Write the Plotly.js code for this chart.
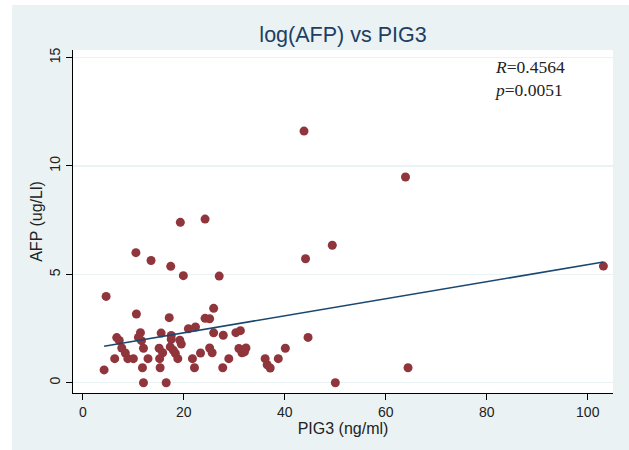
<!DOCTYPE html>
<html>
<head>
<meta charset="utf-8">
<script src="https://cdn.plot.ly/plotly-3.0.1.min.js"></script>
<style>
html,body{margin:0;padding:0;background:#ffffff;width:629px;height:450px;overflow:hidden;}
#chart{position:absolute;left:12px;top:5px;width:617px;height:445px;}
</style>
</head>
<body>
<div id="chart"></div>
<script>
// PIG3 (ng/ml)
const pig3 = [4.2,4.6,6.3,6.7,7.2,7.7,8.4,8.9,10.0,10.5,10.6,11.4,11.0,11.6,12.0,11.8,12.0,12.9,13.5,
  15.5,15.1,15.8,15.2,15.3,16.5,17.1,17.4,17.5,17.5,17.3,17.9,18.3,18.8,19.2,19.5,19.3,19.9,
  20.9,22.3,21.7,22.1,23.3,24.2,24.2,25.1,25.9,25.9,25.1,25.6,27.0,27.8,27.7,28.9,
  30.3,31.2,30.9,32.3,31.5,32.0,36.1,36.5,37.1,38.7,40.1,43.8,44.1,44.6,49.4,50.0,63.9,64.4,103.1];
// AFP (ug/Ll)
const afp = [0.59,3.98,1.11,2.08,1.95,1.60,1.37,1.11,1.11,6.0,3.17,2.31,2.09,1.94,1.59,0.69,0.0,1.11,5.64,
  2.29,1.59,1.38,1.11,0.69,0.0,3.0,5.37,2.18,2.0,1.65,1.50,1.36,1.11,1.96,1.78,7.40,4.94,
  2.49,2.57,1.11,0.69,1.37,7.55,2.97,2.95,3.43,2.30,1.60,1.38,4.92,2.19,0.69,1.11,
  2.31,2.40,1.58,1.60,1.38,1.42,1.11,0.83,0.68,1.11,1.59,11.61,5.72,2.09,6.34,0.0,9.49,0.69,5.38];
// Fitted line end points
const fitX = [4.2, 103.1];
const fitY = [1.68, 5.57];
const xTicks = [0,20,40,60,80,100];
const yTicks = [0,5,10,15];
const titleText = 'log(AFP) vs PIG3';
const xTitle = 'PIG3 (ng/ml)';
const yTitle = 'AFP (ug/Ll)';
const statsText = '<i>R</i>=0.4564<br><i>p</i>=0.0051';

const traces = [
  {x: pig3, y: afp, type:'scatter', mode:'markers',
   marker:{color:'rgb(144,53,59)', size:9}, hoverinfo:'x+y'},
  {x: fitX, y: fitY, type:'scatter', mode:'lines',
   line:{color:'rgb(26,71,111)', width:1.6}, hoverinfo:'skip'}
];

const layout = {
  width:617, height:445,
  paper_bgcolor:'rgb(234,242,243)', plot_bgcolor:'#ffffff',
  margin:{l:61, r:16, t:45, b:57},
  showlegend:false,
  font:{family:'Liberation Sans, Arial, sans-serif', color:'#000'},
  title:{text:titleText, x:0.5, xref:'paper', y:0.933, yref:'container', yanchor:'middle',
         font:{size:21.5, color:'rgb(30,62,100)', family:'Liberation Sans, Arial, sans-serif'}},
  xaxis:{range:[-1.96,105.0], tickvals:xTicks, ticks:'outside', ticklen:6, tickcolor:'#000',
         showline:true, linecolor:'#000', linewidth:1, showgrid:false, zeroline:false,
         tickfont:{size:14, color:'#222'},
         title:{text:xTitle, font:{size:16, color:'#222'}, standoff:2}},
  yaxis:{range:[-0.475,15.35], tickvals:yTicks, ticks:'outside', ticklen:6, tickcolor:'#000',
         showline:true, linecolor:'#000', linewidth:1, showgrid:true, gridcolor:'rgb(234,242,243)',
         gridwidth:1.2, zeroline:false, tickangle:-90,
         tickfont:{size:14, color:'#222'},
         title:{text:yTitle, font:{size:16, color:'#222'}, standoff:0}},
  annotations:[{text:statsText, xref:'paper', yref:'paper', x:0.775, y:0.985,
    xanchor:'left', yanchor:'top', align:'left', showarrow:false,
    font:{family:'Liberation Serif, DejaVu Serif, serif', size:17.5, color:'#222'}}]
};

Plotly.newPlot('chart', traces, layout, {displayModeBar:false, staticPlot:true});
</script>
</body>
</html>
